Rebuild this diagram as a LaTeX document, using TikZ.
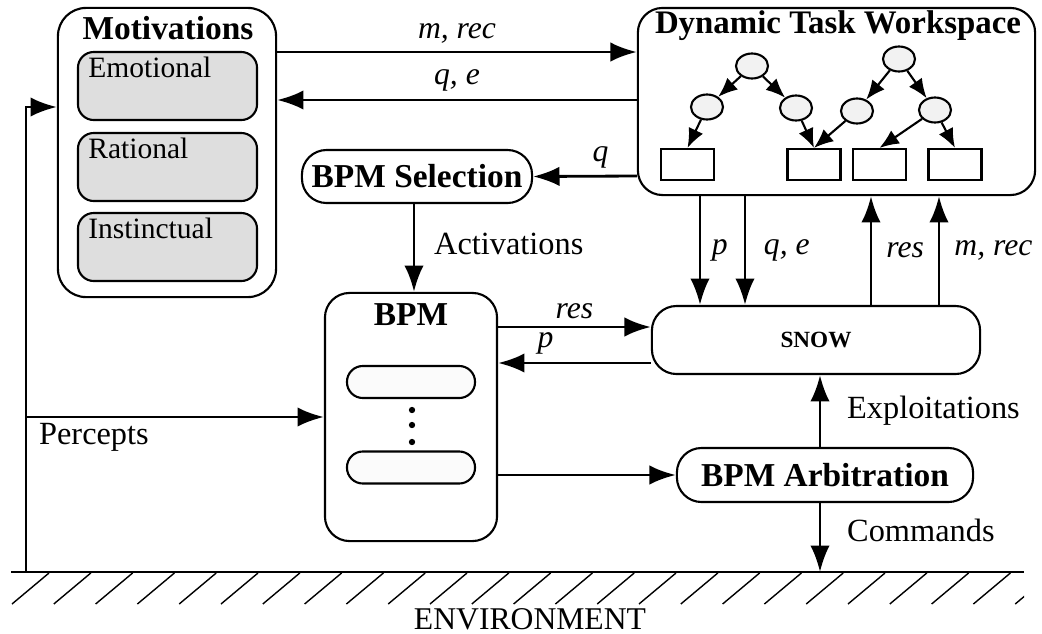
\documentclass[tikz,border=0pt]{standalone}
\usepackage{fontspec}
\setmainfont{Liberation Serif}
\usetikzlibrary{arrows.meta,shapes.geometric}

\definecolor{motfill}{gray}{0.87}
\definecolor{ovalfill}{gray}{0.985}
\definecolor{circfill}{gray}{0.95}

\begin{document}
\begin{tikzpicture}[->, >={Latex[length=7.5pt,width=5.5pt]}, thick, x=0.01cm, y=-0.01cm,
  box/.style={draw, semithick, rounded corners=7pt, inner sep=0pt},
  ttl/.style={font=\fontsize{9.5}{11}\selectfont\bfseries, inner sep=0pt},
  lbl/.style={font=\fontsize{9.2}{11}\selectfont},
  ilbl/.style={font=\fontsize{9}{11}\selectfont\itshape, inner sep=2pt},
  motbox/.style={draw, semithick, fill=motfill, rounded corners=4.5pt, minimum width=1.79cm, minimum height=0.68cm,
    label={[anchor=north west, inner sep=0pt, xshift=0.1cm, yshift=-0.05cm, font=\fontsize{8.4}{10}\selectfont]north west:#1}},
  oval/.style={draw, semithick, fill=ovalfill, rounded corners=4.5pt, minimum width=1.28cm, minimum height=0.32cm},
  circ/.style={draw, semithick, ellipse, fill=circfill, minimum width=0.32cm, minimum height=0.25cm, inner sep=0pt},
  leaf/.style={draw, semithick, minimum width=0.53cm, minimum height=0.31cm, inner sep=0pt},
  tree/.style={semithick, >={Latex[length=5.5pt,width=4.5pt]}}]
  \useasboundingbox (0,0) rectangle (1042,633);

  % motivations
  \node [box, minimum width=2.18cm, minimum height=2.89cm, rounded corners=8pt] (mot) at (167,152.5) {};
  \node [ttl] (mottitle) at (168,28) {Motivations};
  \node [motbox=Emotional] (emo) at (167.5,86) {};
  \node [motbox=Rational] (rat) at (167.5,167) {};
  \node [motbox=Instinctual] (ins) at (167.5,247) {};

  % dynamic task workspace
  \node [box, minimum width=3.97cm, minimum height=1.87cm] (dtw) at (836.5,101.5) {};
  \node [ttl, font=\fontsize{9.35}{11}\selectfont\bfseries] (dtwtitle) at (838,26) {Dynamic Task Workspace};
  \node [circ] (r1) at (752,66) {};
  \node [circ] (a) at (707,107) {};
  \node [circ] (b) at (796,108) {};
  \node [circ] (r2) at (899,59) {};
  \node [circ] (c) at (857,111) {};
  \node [circ] (d) at (935,110) {};
  \node [leaf] (t1) at (687.5,164.5) {};
  \node [leaf] (t2) at (814,164.5) {};
  \node [leaf] (t3) at (879.5,164.5) {};
  \node [leaf] (t4) at (955,164.5) {};
  \path [tree]
  (r1) edge (a) edge (b)
  (r2) edge (c) edge (d)
  (a) edge (t1.north)
  (b) edge (t2.north)
  (c) edge (t2.north)
  (d) edge (t3.north) edge (t4.north)
  ;

  % other blocks
  \node [box, minimum width=2.30cm, minimum height=0.53cm] (sel) at (417,176.5) {};
  \node [ttl] at (sel) {BPM Selection};
  \node [box, minimum width=1.72cm, minimum height=2.48cm] (bpm) at (411,417) {};
  \node [ttl] (bpmtitle) at (411,315) {BPM};
  \node [oval] (o1) at (411,382) {};
  \node [oval] (o2) at (411,467.5) {};
  \foreach \y in {410,425,442} \fill (412,\y) circle (0.9pt);
  \node [box, minimum width=3.28cm, minimum height=0.68cm] (snow) at (816,340) {};
  \node [font=\fontsize{6.6}{8}\selectfont\bfseries] at (snow) {SNOW};
  \node [box, minimum width=2.96cm, minimum height=0.54cm] (arb) at (825,475) {};
  \node [ttl] at (arb) {BPM Arbitration};

  % environment
  \coordinate (gl) at (11,572);
  \coordinate (gr) at (1024,572);
  \coordinate (pg) at (26,572);
  \coordinate (cg) at (820,572);
  \draw [-, semithick] (gl) -- (gr);
  \begin{scope}
    \clip (0,560) rectangle (1024,610);
    \foreach \k in {0,...,24} \draw [-, thin] (12+41.8*\k,604) -- ++(37,-31);
  \end{scope}
  \node [font=\fontsize{9}{10}\selectfont] (env) at (530,619) {ENVIRONMENT};

  % connectors
  \draw (mot.east |- 0,52) -- node[above, ilbl] {m, rec} (dtw.west |- 0,52);
  \draw (dtw.west |- 0,100) -- node[above, ilbl] {q, e} (mot.east |- 0,100);
  \draw (dtw.west |- 0,176) -- node[above, ilbl, pos=0.35] {q} (sel.east);
  \draw (sel.south -| 414,0) -- node[right, lbl, pos=0.45, xshift=2pt] {Activations} (bpm.north -| 414,0);
  \draw (dtw.south -| 700,0) -- node[right, ilbl, xshift=1pt] {p} (snow.north -| 700,0);
  \draw (dtw.south -| 745,0) -- node[right, ilbl, xshift=3pt] {q, e} (snow.north -| 745,0);
  \draw (snow.north -| 871,0) -- node[right, ilbl, xshift=2pt] {res} (dtw.south -| 871,0);
  \draw (snow.north -| 939,0) -- node[right, ilbl, xshift=2pt] {m, rec} (dtw.south -| 939,0);
  \draw (bpm.east |- 0,327) -- node[above, ilbl] {res} (snow.west |- 0,327);
  \draw (snow.west |- 0,363) -- node[above, ilbl, pos=0.69] {p} (bpm.east |- 0,363);
  \draw (bpm.east |- arb.west) -- (arb.west);
  \draw (arb.north -| cg) -- node[right, lbl, xshift=4pt] {Exploitations} (snow.south -| cg);
  \draw (arb.south -| cg) -- node[right, lbl, pos=0.4, xshift=4pt] {Commands} (cg);
  \draw (pg) |- (mot.west |- 0,107);
  \draw (pg |- bpm.west) -- (bpm.west);
  \node [lbl, anchor=west] (perc) at (26,437) {Percepts};
\end{tikzpicture}
\end{document}
